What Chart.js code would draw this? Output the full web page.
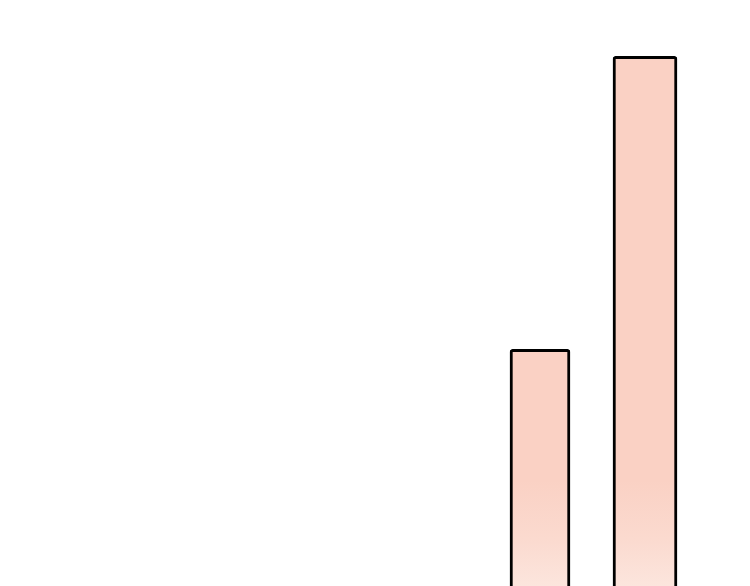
<!DOCTYPE html>
<html>
<head>
<meta charset="utf-8">
<script src="https://cdn.jsdelivr.net/npm/chart.js@4/dist/chart.umd.min.js"></script>
<style>
  html, body { margin: 0; padding: 0; background: #fff; overflow: hidden; }
  .chart { position: relative; width: 750px; height: 586px; }
</style>
</head>
<body>
<div class="chart"><canvas id="bars"></canvas></div>
<script>
const categories = ['A', 'B'];
const valuesA = [40.4, null];
const valuesB = [null, 90.4];

const canvas = document.querySelector('#bars');
const ctx = canvas.getContext('2d');

// flat peach fill that fades lighter near the bottom edge
function peachFill(context) {
    const area = context.chart.chartArea;
    if (!area) return '#FAD1C4';
    const g = ctx.createLinearGradient(0, area.top, 0, area.bottom);
    g.addColorStop(0, '#FAD1C4');
    g.addColorStop(0.82, '#FAD1C4');
    g.addColorStop(0.92, '#FBDACF');
    g.addColorStop(1, '#FCE5DD');
    return g;
}

const chart = new Chart(ctx, {
    type: 'bar',
    data: {
        labels: categories,
        datasets: [
            {
                data: valuesA,
                barThickness: 60,
                backgroundColor: peachFill,
                borderColor: '#000',
                borderWidth: 3,
                borderRadius: 3,
                borderSkipped: 'start',
            },
            {
                data: valuesB,
                barThickness: 64,
                backgroundColor: peachFill,
                borderColor: '#000',
                borderWidth: 3,
                borderRadius: 3,
                borderSkipped: 'start',
            },
        ],
    },
    options: {
        responsive: true,
        maintainAspectRatio: false,
        animation: false,
        grouped: false,
        layout: {
            padding: { left: 487.5, right: 52.5, top: 0, bottom: 0 },
        },
        plugins: {
            legend: { display: false },
            tooltip: { enabled: false },
        },
        scales: {
            x: { display: false },
            y: { display: false, min: 0, max: 100 },
        },
    },
});
</script>
</body>
</html>
